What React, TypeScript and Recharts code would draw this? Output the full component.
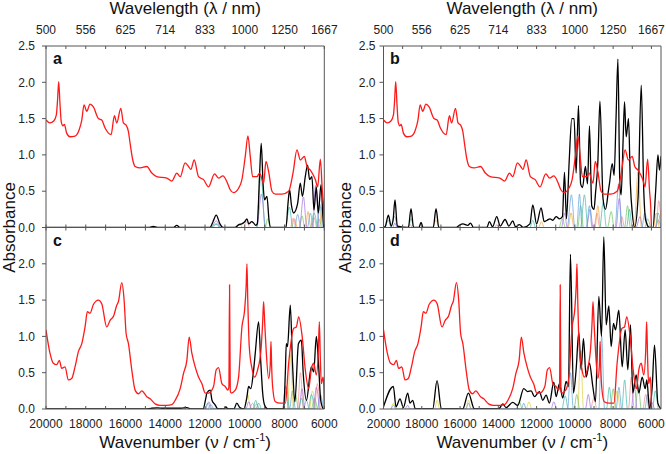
import React from 'react';
import { LineChart, Line, XAxis, YAxis } from 'recharts';

const W = 666;
const H = 454;
const FONT = '"Liberation Sans", Arial, Helvetica, sans-serif';
const AXIS = '#555';
const RED = '#ff1a1a';
const BLACK = '#000';
const TEAL = '#3cb8a4';
const PURPLE = '#a66be0';
const ORANGE = '#f0a33a';
const BLUE = '#5a9fd8';
const PINK = '#ef8a8a';
const GREEN = '#6cc45c';
const YELLOW = '#e3cd3a';

// x ticks (wavenumber, cm-1) and the wavelength labels shown on the top axis
const WN_TICKS = [20000, 19000, 18000, 17000, 16000, 15000, 14000, 13000, 12000, 11000, 10000, 9000, 8000, 7000, 6000];
const WN_MAJOR = [20000, 18000, 16000, 14000, 12000, 10000, 8000, 6000];
const WN_LABELS = ['20000', '18000', '16000', '14000', '12000', '10000', '8000', '6000'];
const WL_LABELS = ['500', '556', '625', '714', '833', '1000', '1250', '1667'];
const Y_TICKS_TOP = [0, 0.5, 1, 1.5, 2, 2.5];
const Y_TICKS_BOTTOM = [0, 0.5, 1, 1.5, 2];

// experimental spectra (red)
const RED_AB = [
  [20000, 1.48], [19800, 1.44], [19600, 1.47], [19480, 1.55], [19420, 1.75], [19362, 2.01], [19300, 1.72], [19230, 1.45],
  [19150, 1.4], [19077, 1.42], [18960, 1.3], [18790, 1.25], [18540, 1.26], [18340, 1.34], [18200, 1.48], [18086, 1.69],
  [17950, 1.6], [17784, 1.7], [17616, 1.66], [17364, 1.5], [17196, 1.48], [17028, 1.37], [16860, 1.3], [16726, 1.28],
  [16558, 1.54], [16440, 1.44], [16239, 1.64], [16105, 1.44], [15970, 1.41], [15853, 1.32], [15769, 1.16], [15635, 0.93],
  [15517, 0.84], [15265, 0.82], [14930, 0.84], [14677, 0.75], [14426, 0.7], [13922, 0.68], [13670, 0.64], [13418, 0.75],
  [13250, 0.7], [13000, 0.89], [12830, 0.84], [12713, 0.8], [12545, 0.93], [12327, 0.7], [12075, 0.66], [11823, 0.56],
  [11521, 0.74], [11320, 0.68], [11101, 0.71], [10900, 0.63], [10732, 0.52], [10564, 0.48], [10312, 0.54], [10144, 0.66],
  [9976, 0.98], [9842, 1.26], [9724, 0.98], [9607, 0.7], [9389, 0.7], [9254, 0.75], [9053, 0.61], [8935, 0.91],
  [8800, 0.77], [8632, 0.5], [8465, 0.46], [8129, 0.46], [7793, 0.5], [7575, 0.75], [7374, 1.07], [7206, 0.93],
  [7004, 0.98], [6870, 0.84], [6702, 0.79], [6450, 0.66], [6333, 0.56], [6199, 0.94], [6098, 0.5], [6040, 0.3], [6000, 0.02],
];

const RED_CD = [
  [20000, 1.09], [19800, 0.77], [19630, 0.63], [19463, 0.61], [19328, 0.67], [19210, 0.56], [19043, 0.58], [18875, 0.4],
  [18707, 0.42], [18540, 0.58], [18370, 0.79], [18200, 0.9], [18035, 1.13], [17918, 1.34], [17784, 1.32], [17616, 1.44],
  [17364, 1.5], [17196, 1.45], [16944, 1.13], [16776, 1.22], [16600, 1.28], [16440, 1.43], [16356, 1.48], [16188, 1.74],
  [16071, 1.5], [15970, 1.04], [15853, 0.9], [15685, 0.54], [15517, 0.26], [15350, 0.21], [15181, 0.25], [14930, 0.17],
  [14760, 0.14], [14510, 0.07], [14258, 0.05], [13922, 0.05], [13670, 0.06], [13500, 0.12], [13250, 0.28], [13082, 0.49],
  [12914, 0.67], [12797, 0.99], [12663, 0.77], [12495, 0.58], [12327, 0.44], [12159, 0.35], [11991, 0.22], [11823, 0.22],
  [11571, 0.31], [11437, 0.54], [11320, 0.57], [11152, 0.35], [10984, 0.31], [10850, 0.26], [10800, 0.3], [10766, 1.71],
  [10730, 0.25], [10682, 0.22], [10480, 0.26], [10312, 0.44], [10144, 1.13], [10010, 1.36], [9930, 1.7], [9892, 2.0],
  [9850, 1.5], [9775, 0.86], [9640, 0.56], [9506, 0.44], [9355, 0.54], [9187, 0.81], [9100, 1.2], [9053, 1.48],
  [9000, 1.2], [8935, 0.86], [8800, 0.42], [8720, 0.6], [8683, 0.93], [8650, 0.6], [8600, 0.31], [8465, 0.1],
  [8213, 0.08], [7960, 0.08], [7793, 0.63], [7541, 1.11], [7407, 1.13], [7290, 1.27], [7122, 1.02], [6955, 0.54],
  [6787, 0.28], [6652, 0.55], [6534, 0.63], [6400, 0.47], [6300, 0.8], [6249, 1.2], [6200, 0.7], [6148, 0.35],
  [6064, 0.44], [6030, 0.35], [6000, 0.02],
];

// calculated spectra (black)
const BLACK_A = [
  [20000, 0], [14800, 0], [14600, 0.015], [14400, 0], [13600, 0], [13420, 0.03], [13250, 0], [11750, 0], [11600, 0.08],
  [11437, 0.17], [11250, 0.05], [11100, 0], [10500, 0], [10300, 0.04], [10150, 0.05], [10000, 0.08], [9892, 0.12],
  [9800, 0.05], [9650, 0.08], [9550, 0.06], [9450, 0.03], [9370, 0.05], [9260, 0.7], [9173, 1.16], [9080, 0.6],
  [9006, 0.38], [8886, 0.43], [8780, 0.1], [8700, 0], [7930, 0], [7820, 0.35], [7746, 0.52], [7650, 0.3], [7545, 0.2],
  [7343, 0.33], [7209, 0.61], [7100, 0.43], [6957, 0.7], [6840, 0.86], [6740, 0.66], [6622, 0.7], [6520, 0.24],
  [6403, 0.56], [6300, 0.2], [6166, 0.59], [6030, 0], [6000, 0],
];

const BLACK_B = [
  [20000, 0], [19900, 0.02], [19747, 0.17], [19600, 0.02], [19500, 0.1], [19399, 0.38], [19280, 0.02], [18700, 0],
  [18562, 0.26], [18430, 0], [18150, 0], [18039, 0.07], [17930, 0], [17400, 0], [17255, 0.26], [17110, 0], [16200, 0],
  [16040, 0.03], [15850, 0.05], [15600, 0.03], [15450, 0.06], [15300, 0], [14600, 0], [14466, 0.08], [14300, 0.01],
  [14083, 0.15], [13900, 0.02], [13647, 0.11], [13450, 0.02], [13246, 0.09], [13100, 0.01], [12897, 0.04], [12700, 0],
  [12350, 0.05], [12200, 0.31], [12000, 0.05], [11765, 0.27], [11600, 0.08], [11450, 0.1], [11300, 0.12], [11150, 0.1],
  [10980, 0.15], [10800, 0.12], [10650, 0.15], [10544, 0.76], [10440, 0.12], [10300, 0.9], [10161, 1.5], [10040, 1.5],
  [9935, 0.75], [9813, 1.68], [9700, 0.6], [9600, 0.55], [9450, 0.84], [9340, 0.6], [9237, 1.4], [9120, 0.3],
  [9000, 0.25], [8923, 0.47], [8800, 0.9], [8690, 1.74], [8530, 0.4], [8400, 0.25], [8250, 0.5], [8190, 0.61],
  [8049, 0.88], [7950, 0.72], [7850, 1.5], [7751, 2.32], [7650, 0.6], [7582, 0.45], [7480, 1.2], [7406, 1.73],
  [7320, 1.25], [7250, 1.39], [7196, 1.5], [7100, 0.6], [7000, 0.2], [6883, 0], [6700, 0.4], [6533, 1.96],
  [6400, 0.5], [6300, 0.1], [6100, 0], [5920, 0], [5780, 0.5], [5660, 1.0], [5580, 0.79], [5500, 0.98],
];

const BLACK_C = [
  [20000, 0], [15000, 0], [14700, 0.01], [14400, 0.015], [14100, 0.01], [13200, 0.01], [12914, 0.02], [12700, 0],
  [12100, 0], [11960, 0.15], [11907, 0.22], [11740, 0.26], [11650, 0.12], [11500, 0.06], [11350, 0], [11050, 0],
  [10950, 0.03], [10850, 0], [10550, 0], [10400, 0.08], [10250, 0.02], [10050, 0], [9900, 0.15], [9808, 0.31],
  [9700, 0.28], [9550, 0.55], [9473, 0.77], [9305, 1.2], [9200, 0.67], [9100, 0.22], [9000, 0.05], [8850, 0],
  [8045, 0], [7960, 0.5], [7911, 0.9], [7850, 0.86], [7710, 1.43], [7600, 0.63], [7480, 0.1], [7300, 0.9],
  [7155, 0.95], [7060, 0.49], [6900, 0.12], [6652, 0.58], [6534, 0.51], [6400, 1.0], [6300, 0.67], [6180, 0.12],
  [6030, 0], [6000, 0],
];

const BLACK_D = [
  [20000, 0.03], [19486, 0.31], [19346, 0.03], [19137, 0.14], [18963, 0.02], [18736, 0.22], [18614, 0.08],
  [18475, 0.12], [18336, 0], [17429, 0], [17202, 0.39], [16976, 0], [15860, 0], [15564, 0.22], [15250, 0],
  [14100, 0], [13943, 0.01], [13768, 0.07], [13594, 0.02], [13246, 0.09], [12984, 0.05], [12671, 0.28], [12462, 0.24],
  [12288, 0.25], [12113, 0.17], [11852, 0.24], [11678, 0.12], [11504, 0.19], [11330, 0.08], [11103, 0.37],
  [10980, 0.17], [10806, 0.35], [10632, 0.15], [10458, 0.38], [10336, 0.31], [10231, 2.13], [10074, 0.22],
  [9935, 0.54], [9796, 1.06], [9674, 0.54], [9551, 0.97], [9412, 0.44], [9237, 0.63], [9063, 0.31], [8923, 0.1],
  [8749, 1.55], [8609, 1.0], [8488, 2.37], [8366, 1.16], [8226, 1.42], [8104, 0.86], [7982, 1.18], [7878, 1.09],
  [7704, 1.36], [7530, 0.58], [7373, 1.09], [7234, 0.54], [7094, 1.16], [6972, 0.22], [6798, 0.47], [6658, 0.22],
  [6484, 0.44], [6327, 0.28], [6240, 0.4], [6100, 0], [5960, 0.3], [5839, 0.88], [5665, 0.08], [5500, 0],
];

// individual transition bands (thin coloured lines)
const A_TEAL = [[11700, 0], [11450, 0.05], [11250, 0], [9420, 0], [9180, 0.72], [8980, 0], [7950, 0], [7760, 0.28], [7580, 0], [6700, 0], [6520, 0.2], [6350, 0]];
const A_PURPLE = [[11650, 0], [11430, 0.09], [11200, 0], [9400, 0], [9160, 0.46], [8950, 0], [7250, 0], [7050, 0.42], [6880, 0], [6580, 0], [6440, 0.58], [6300, 0]];
const A_ORANGE = [[10400, 0], [10250, 0.04], [10100, 0], [7650, 0], [7500, 0.12], [7350, 0], [6950, 0], [6820, 0.22], [6680, 0], [6250, 0], [6120, 0.28], [6000, 0]];
const A_BLUE = [[11600, 0], [11400, 0.05], [11200, 0], [7500, 0], [7340, 0.18], [7180, 0], [6850, 0], [6700, 0.2], [6550, 0], [6350, 0], [6230, 0.32], [6100, 0]];
const A_PINK = [[10050, 0], [9890, 0.08], [9750, 0], [7700, 0], [7560, 0.13], [7420, 0], [6650, 0], [6520, 0.14], [6400, 0]];
const A_GREEN = [[8950, 0], [8850, 0.12], [8700, 0], [7250, 0], [7120, 0.16], [6980, 0], [6400, 0], [6280, 0.12], [6150, 0]];

const B_BLUE = [[19600, 0], [19420, 0.15], [19250, 0], [10400, 0], [10180, 0.45], [10000, 0], [9900, 0], [9760, 0.46], [9620, 0], [9400, 0], [9240, 0.3], [9100, 0], [7900, 0], [7720, 0.6], [7560, 0], [6500, 0], [6350, 0.2], [6200, 0]];
const B_TEAL = [[19900, 0], [19750, 0.1], [19600, 0], [18700, 0], [18560, 0.12], [18420, 0], [12350, 0], [12200, 0.1], [12050, 0], [9700, 0], [9500, 0.45], [9320, 0], [8700, 0], [8520, 0.35], [8350, 0], [7300, 0], [7150, 0.25], [7000, 0], [5800, 0], [5650, 0.2], [5500, 0]];
const B_ORANGE = [[17400, 0], [17255, 0.1], [17100, 0], [11900, 0], [11750, 0.08], [11600, 0], [10350, 0], [10200, 0.2], [10050, 0], [8950, 0], [8800, 0.3], [8650, 0], [6900, 0], [6700, 0.77], [6520, 0], [5900, 0], [5750, 0.2], [5600, 0]];
const B_PURPLE = [[19500, 0], [19400, 0.06], [19300, 0], [10700, 0], [10540, 0.2], [10400, 0], [9400, 0], [9200, 0.25], [9050, 0], [7850, 0], [7680, 0.4], [7520, 0], [6800, 0], [6600, 0.15], [6450, 0], [5800, 0], [5640, 0.1], [5500, 0]];
const B_PINK = [[18700, 0], [18600, 0.04], [18500, 0], [14200, 0], [14080, 0.04], [13950, 0], [9000, 0], [8850, 0.2], [8700, 0], [7700, 0], [7550, 0.15], [7400, 0], [5750, 0], [5620, 0.37], [5500, 0.1]];
const B_GREEN = [[10800, 0], [10650, 0.12], [10500, 0], [9850, 0], [9700, 0.3], [9550, 0], [8300, 0], [8100, 0.22], [7950, 0], [7400, 0], [7250, 0.3], [7100, 0], [6350, 0], [6200, 0.12], [6050, 0]];

const C_TEAL = [[12000, 0], [11850, 0.08], [11700, 0], [9600, 0], [9450, 0.12], [9300, 0], [8050, 0], [7900, 0.3], [7750, 0], [7300, 0], [7150, 0.15], [7000, 0], [6800, 0], [6650, 0.2], [6500, 0]];
const C_PURPLE = [[11950, 0], [11800, 0.1], [11650, 0], [9950, 0], [9800, 0.1], [9650, 0], [8100, 0], [7950, 0.32], [7800, 0], [7270, 0], [7120, 0.28], [6970, 0], [6550, 0], [6400, 0.3], [6250, 0]];
const C_YELLOW = [[10000, 0], [9850, 0.2], [9700, 0], [7850, 0], [7700, 0.75], [7550, 0], [6750, 0], [6600, 0.25], [6450, 0]];
const C_BLUE = [[11850, 0], [11700, 0.06], [11550, 0], [9450, 0], [9300, 0.08], [9150, 0], [7750, 0], [7600, 0.25], [7450, 0], [7050, 0], [6900, 0.12], [6750, 0], [6350, 0], [6200, 0.2], [6050, 0]];
const C_PINK = [[9750, 0], [9600, 0.08], [9450, 0], [7350, 0], [7200, 0.5], [7050, 0], [6500, 0], [6350, 0.35], [6200, 0]];
const C_GREEN = [[9550, 0], [9400, 0.07], [9250, 0], [7600, 0], [7450, 0.2], [7300, 0], [6650, 0], [6500, 0.15], [6350, 0]];

const D_BLUE = [[19600, 0], [19480, 0.05], [19350, 0], [15700, 0], [15560, 0.08], [15420, 0], [12800, 0], [12670, 0.08], [12540, 0], [10380, 0], [10230, 0.5], [10080, 0], [8750, 0], [8600, 1.0], [8450, 0], [7850, 0], [7700, 0.3], [7550, 0], [6350, 0], [6200, 0.2], [6050, 0]];
const D_YELLOW = [[19600, 0], [19480, 0.08], [19350, 0], [17330, 0], [17200, 0.12], [17070, 0], [15700, 0], [15560, 0.12], [15420, 0], [12550, 0], [12400, 0.1], [12250, 0], [9850, 0], [9700, 0.8], [9550, 0], [7950, 0], [7800, 0.25], [7650, 0]];
const D_PINK = [[9150, 0], [9000, 0.15], [8850, 0], [7200, 0], [7050, 0.44], [6900, 0], [6450, 0], [6300, 0.2], [6150, 0]];
const D_TEAL = [[10650, 0], [10500, 0.18], [10350, 0], [8350, 0], [8200, 0.3], [8050, 0], [7550, 0], [7400, 0.4], [7250, 0], [5950, 0], [5800, 0.25], [5650, 0]];
const D_PURPLE = [[18850, 0], [18736, 0.05], [18620, 0], [11250, 0], [11100, 0.1], [10950, 0], [9450, 0], [9300, 0.2], [9150, 0], [7050, 0], [6900, 0.35], [6750, 0], [6150, 0], [6000, 0.1], [5850, 0]];
const D_GREEN = [[13050, 0], [12900, 0.1], [12750, 0], [10050, 0], [9900, 0.2], [9750, 0], [8150, 0], [8000, 0.28], [7850, 0], [6850, 0], [6700, 0.3], [6550, 0]];

const pts = (arr: number[][]) => arr.map(([x, y]) => ({ x, y }));

type Comp = { color: string; data: number[][] };

interface PanelProps {
  box: [number, number, number, number];
  domain: [number, number];
  top: boolean;
  yTicks: number[];
  yGap: number;
  red: number[][];
  black: number[][];
  comps: Comp[];
}

function Panel({ box, domain, top, yTicks, yGap, red, black, comps }: PanelProps) {
  const [L, T, R, B] = box;

  const topTick = (p: any) => {
    const i = WN_MAJOR.indexOf(p.payload.value);
    if (!top || i < 0) return <g />;
    return (
      <text x={p.x} y={34} textAnchor="middle" fontSize={12} fill="#222" fontFamily={FONT}>
        {WL_LABELS[i]}
      </text>
    );
  };
  const bottomTick = (p: any) => {
    const i = WN_MAJOR.indexOf(p.payload.value);
    if (top || i < 0) return <g />;
    return (
      <text x={p.x} y={428} textAnchor="middle" fontSize={12} fill="#222" fontFamily={FONT}>
        {WN_LABELS[i]}
      </text>
    );
  };
  const leftTick = (p: any) => (
    <text x={L - yGap} y={p.y} dy={4.2} textAnchor="end" fontSize={12} fill="#222" fontFamily={FONT}>
      {Number(p.payload.value).toFixed(1)}
    </text>
  );

  return (
    <div style={{ position: 'absolute', left: 0, top: 0 }}>
      <LineChart
        width={W}
        height={H}
        margin={{ left: L - 1, top: T - 1, right: W - R - 1, bottom: H - B - 1 }}
      >
        <XAxis
          xAxisId="t" orientation="top" type="number" dataKey="x" domain={domain} reversed allowDataOverflow
          ticks={WN_TICKS} height={1} tickSize={-3} tick={topTick} stroke={AXIS} interval={0}
        />
        <XAxis
          xAxisId="b" orientation="bottom" type="number" dataKey="x" domain={domain} reversed allowDataOverflow
          ticks={WN_TICKS} height={1} tickSize={-3} tick={bottomTick} stroke={AXIS} interval={0}
        />
        <YAxis
          yAxisId="l" type="number" domain={[0, 2.5]} ticks={yTicks} width={1} tickSize={4}
          tick={leftTick} stroke={AXIS} allowDataOverflow interval={0}
        />
        <YAxis
          yAxisId="r" orientation="right" type="number" domain={[0, 2.5]} width={1}
          tick={false} tickLine={false} stroke={AXIS}
        />
        {comps.map((c, i) => (
          <Line
            key={i} xAxisId="t" yAxisId="l" data={pts(c.data)} dataKey="y" type="monotone"
            stroke={c.color} strokeWidth={0.7} dot={false} isAnimationActive={false}
          />
        ))}
        <Line
          xAxisId="t" yAxisId="l" data={pts(black)} dataKey="y" type="monotone"
          stroke={BLACK} strokeWidth={1.3} dot={false} isAnimationActive={false}
        />
        <Line
          xAxisId="t" yAxisId="l" data={pts(red)} dataKey="y" type="monotone"
          stroke={RED} strokeWidth={1.3} dot={false} isAnimationActive={false}
        />
      </LineChart>
    </div>
  );
}

const LEFT_L = 46;
const LEFT_R = 324.3;
const RIGHT_L = 383.5;
const RIGHT_R = 661;
const TOP_T = 46;
const MID = 227.5;
const BOT_B = 409;

export default function App() {
  const letter = { fontSize: 16, fontWeight: 700, fill: '#111', fontFamily: FONT } as const;
  const title = { fontSize: 17, fill: '#111', fontFamily: FONT, textAnchor: 'middle' } as const;
  return (
    <div style={{ position: 'absolute', left: 0, top: 0, width: W, height: H, background: '#fff' }}>
      <Panel
        box={[LEFT_L, TOP_T, LEFT_R, MID]} domain={[6000, 20000]} top yTicks={Y_TICKS_TOP} yGap={11}
        red={RED_AB} black={BLACK_A}
        comps={[
          { color: ORANGE, data: A_ORANGE }, { color: BLUE, data: A_BLUE }, { color: PINK, data: A_PINK },
          { color: GREEN, data: A_GREEN }, { color: PURPLE, data: A_PURPLE }, { color: TEAL, data: A_TEAL },
        ]}
      />
      <Panel
        box={[RIGHT_L, TOP_T, RIGHT_R, MID]} domain={[5500, 20000]} top yTicks={Y_TICKS_TOP} yGap={8}
        red={RED_AB} black={BLACK_B}
        comps={[
          { color: ORANGE, data: B_ORANGE }, { color: PINK, data: B_PINK }, { color: GREEN, data: B_GREEN },
          { color: PURPLE, data: B_PURPLE }, { color: TEAL, data: B_TEAL }, { color: BLUE, data: B_BLUE },
        ]}
      />
      <Panel
        box={[LEFT_L, MID, LEFT_R, BOT_B]} domain={[6000, 20000]} top={false} yTicks={Y_TICKS_BOTTOM} yGap={11}
        red={RED_CD} black={BLACK_C}
        comps={[
          { color: YELLOW, data: C_YELLOW }, { color: BLUE, data: C_BLUE }, { color: PINK, data: C_PINK },
          { color: GREEN, data: C_GREEN }, { color: PURPLE, data: C_PURPLE }, { color: TEAL, data: C_TEAL },
        ]}
      />
      <Panel
        box={[RIGHT_L, MID, RIGHT_R, BOT_B]} domain={[5500, 20000]} top={false} yTicks={Y_TICKS_BOTTOM} yGap={8}
        red={RED_CD} black={BLACK_D}
        comps={[
          { color: YELLOW, data: D_YELLOW }, { color: PINK, data: D_PINK }, { color: GREEN, data: D_GREEN },
          { color: PURPLE, data: D_PURPLE }, { color: TEAL, data: D_TEAL }, { color: BLUE, data: D_BLUE },
        ]}
      />
      <svg width={W} height={H} style={{ position: 'absolute', left: 0, top: 0, pointerEvents: 'none' }}>
        <text x={(LEFT_L + LEFT_R) / 2} y={14} {...title}>Wavelength (λ / nm)</text>
        <text x={(RIGHT_L + RIGHT_R) / 2} y={14} {...title}>Wavelength (λ / nm)</text>
        <text x={(LEFT_L + LEFT_R) / 2} y={448} {...title}>
          Wavenumber (ν / cm<tspan dy={-7} fontSize={11}>-1</tspan><tspan dy={7}>)</tspan>
        </text>
        <text x={(RIGHT_L + RIGHT_R) / 2} y={448} {...title}>
          Wavenumber (ν / cm<tspan dy={-7} fontSize={11}>-1</tspan><tspan dy={7}>)</tspan>
        </text>
        <text x={15} y={MID} {...title} transform={`rotate(-90 15 ${MID})`}>Absorbance</text>
        <text x={351} y={MID} {...title} transform={`rotate(-90 351 ${MID})`}>Absorbance</text>
        <text x={53} y={63.5} {...letter}>a</text>
        <text x={390} y={63.5} {...letter}>b</text>
        <text x={53} y={246} {...letter}>c</text>
        <text x={390} y={246} {...letter}>d</text>
      </svg>
    </div>
  );
}
